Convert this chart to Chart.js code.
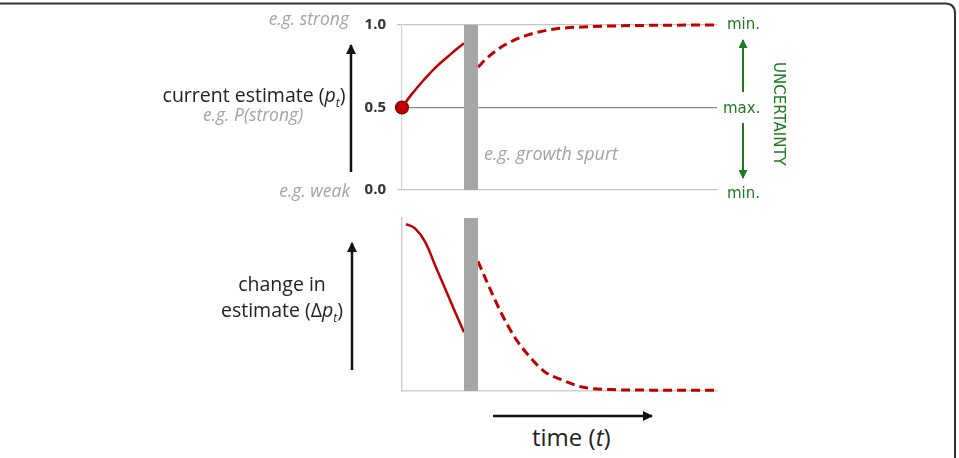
<!DOCTYPE html>
<html>
<head>
<meta charset="utf-8">
<script src="https://cdn.jsdelivr.net/npm/chart.js@4"></script>
<style>
  html, body { margin: 0; padding: 0; background: #fff; }
  #page { position: relative; width: 959px; height: 458px; overflow: hidden; font-family: "Open Sans", Lato, sans-serif; }
  canvas { position: absolute; left: 0; }
  .lbl { position: absolute; white-space: nowrap; line-height: 1; }
  .gray { color: #a3a3a3; font-style: italic; font-size: 17.5px; }
  .dark { color: #222; font-size: 19.5px; }
  .green { color: #1f7a1f; font-family: "DejaVu Sans", sans-serif; font-size: 15px; }
  .ctr { text-align: center; width: 240px; }
  sub { font-size: 12px; }
  svg { position: absolute; left: 0; top: 0; }
</style>
</head>
<body>
<div id="page">
  <svg width="959" height="458">
    <defs>
      <marker id="ab" markerWidth="10" markerHeight="10" refX="9" refY="5" orient="auto" markerUnits="userSpaceOnUse">
        <path d="M0,0 L10,5 L0,10 z" fill="#111"/>
      </marker>
      <marker id="ag" markerWidth="9" markerHeight="9" refX="8" refY="4.5" orient="auto" markerUnits="userSpaceOnUse">
        <path d="M0,0 L9,4.5 L0,9 z" fill="#1f7a1f"/>
      </marker>
    </defs>
    <!-- frame -->
    <path d="M0,3.5 L945,3.5 Q955,3.5 955,13.5 L955,460" fill="none" stroke="#333" stroke-width="2"/>
    <!-- black arrows -->
    <line x1="351" y1="172" x2="351" y2="45" stroke="#111" stroke-width="2.5" marker-end="url(#ab)"/>
    <line x1="352" y1="370" x2="352" y2="243" stroke="#111" stroke-width="2.5" marker-end="url(#ab)"/>
    <line x1="493" y1="416" x2="652" y2="416" stroke="#111" stroke-width="2.5" marker-end="url(#ab)"/>
    <!-- green arrows -->
    <line x1="743" y1="92" x2="743" y2="40" stroke="#1f7a1f" stroke-width="2" marker-end="url(#ag)"/>
    <line x1="743" y1="123" x2="743" y2="178" stroke="#1f7a1f" stroke-width="2" marker-end="url(#ag)"/>
  </svg>

  <canvas id="topChart" width="959" height="210" style="top:0"></canvas>
  <canvas id="bottomChart" width="959" height="200" style="top:205px"></canvas>

  <div class="lbl gray" style="right:610px; top:10px;">e.g. strong</div>
  <div class="lbl dark ctr" style="left:134px; top:85px;">current estimate (<i>p<sub>t</sub></i>)</div>
  <div class="lbl gray ctr" style="left:133px; top:106px;">e.g. P(strong)</div>
  <div class="lbl gray" style="right:609px; top:182px;">e.g. weak</div>
  <div class="lbl gray" style="left:484px; top:144px; font-size:18px;">e.g. growth spurt</div>

  <div class="lbl dark ctr" style="left:162px; top:274px;">change in</div>
  <div class="lbl dark ctr" style="left:162px; top:300px;">estimate (Δ<i>p<sub>t</sub></i>)</div>
  <div class="lbl dark" style="left:532px; top:425px; font-size:24px;">time (<i>t</i>)</div>

  <div class="lbl green" style="left:727px; top:17px;">min.</div>
  <div class="lbl green" style="left:723px; top:101px;">max.</div>
  <div class="lbl green" style="left:727px; top:186px;">min.</div>
  <div class="lbl green" style="left:771px; top:62px; font-size:15px; writing-mode:vertical-rl;">UNCERTAINTY</div>
</div>

<script>
// time axis runs 0..315 across the plot
const xMax = 315;

// spurt (gray bar) position
const spurtX = [69, 69];
const spurtTop = [0, 1];
const spurtBottom = [0, 1];

// current estimate p_t (top panel)
const estBeforeX = [0, 9, 22, 35, 49, 62];
const estBeforeY = [0.5, 0.575, 0.668, 0.751, 0.825, 0.89];
const estAfterX = [76, 86, 103, 126, 153, 180, 210, 250, 313];
const estAfterY = [0.745, 0.805, 0.88, 0.94, 0.976, 0.988, 0.994, 0.998, 1.0];

// change in estimate (bottom panel)
const chgBeforeX = [4, 13, 23, 33, 43, 53, 62];
const chgBeforeY = [0.965, 0.94, 0.864, 0.728, 0.594, 0.458, 0.34];
const chgAfterX = [76, 86, 100, 113, 126, 143, 160, 180, 210, 250, 313];
const chgAfterY = [0.75, 0.616, 0.442, 0.308, 0.209, 0.11, 0.064, 0.023, 0.008, 0.005, 0.004];

const topTicks = [0, 0.5, 1];

const RED = '#c00000';

function pts(xs, ys) {
    return xs.map((x, i) => ({ x: x, y: ys[i] }));
}

function curve(xs, ys, dashed) {
    return {
        data: pts(xs, ys),
        borderColor: RED,
        borderWidth: dashed ? 3 : 2.5,
        borderDash: dashed ? [9, 5] : [],
        // smooth bezier for the short solid pieces, monotone for the long dashed tails
        cubicInterpolationMode: dashed ? 'monotone' : 'default',
        tension: 0.4,
        pointRadius: 0,
        clip: false
    };
}

function bar(ys) {
    return {
        data: pts(spurtX, ys),
        borderColor: '#a6a6a6',
        borderWidth: 14,
        borderCapStyle: 'butt',
        pointRadius: 0,
        clip: false
    };
}

// Top panel
new Chart(document.getElementById('topChart'), {
    type: 'line',
    data: {
        datasets: [
            bar(spurtTop),
            curve(estBeforeX, estBeforeY, false),
            curve(estAfterX, estAfterY, true),
            {
                data: pts([estBeforeX[0]], [estBeforeY[0]]),
                pointRadius: 6.5,
                pointBackgroundColor: RED,
                pointBorderColor: '#6a0000',
                pointBorderWidth: 1.2,
                showLine: false,
                clip: false
            }
        ]
    },
    options: {
        responsive: false,
        animation: false,
        events: [],
        layout: { padding: { left: 352, right: 242, top: 25, bottom: 16 } },
        plugins: { legend: { display: false }, tooltip: { enabled: false } },
        scales: {
            x: { type: 'linear', min: 0, max: xMax, display: false },
            y: {
                type: 'linear', min: 0, max: 1,
                afterFit: (scale) => { scale.width = 50; },
                afterBuildTicks: (scale) => { scale.ticks = topTicks.map(v => ({ value: v })); },
                ticks: {
                    padding: 11,
                    color: '#333',
                    font: { family: 'Open Sans', weight: 'bold', size: 15 },
                    callback: (v) => v.toFixed(1)
                },
                grid: {
                    tickLength: 5,
                    lineWidth: 1.2,
                    color: (ctx) => (ctx.tick && ctx.tick.value === 0.5) ? '#8c8c8c' : '#c4c4c4'
                },
                border: { display: true, color: '#d0d0d0', width: 1.2 }
            }
        }
    }
});

// Bottom panel
new Chart(document.getElementById('bottomChart'), {
    type: 'line',
    data: {
        datasets: [
            bar(spurtBottom),
            curve(chgBeforeX, chgBeforeY, false),
            curve(chgAfterX, chgAfterY, true)
        ]
    },
    options: {
        responsive: false,
        animation: false,
        events: [],
        layout: { padding: { left: 402, right: 242, top: 13, bottom: 14 } },
        plugins: { legend: { display: false }, tooltip: { enabled: false } },
        scales: {
            x: {
                type: 'linear', min: 0, max: xMax,
                afterFit: (scale) => { scale.height = 0; },
                ticks: { display: false },
                grid: { display: false },
                border: { display: true, color: '#d0d0d0', width: 1.5 }
            },
            y: {
                type: 'linear', min: 0, max: 1,
                afterFit: (scale) => { scale.width = 0; },
                ticks: { display: false },
                grid: { display: false },
                border: { display: true, color: '#d0d0d0', width: 1.5 }
            }
        }
    }
});
</script>
</body>
</html>
